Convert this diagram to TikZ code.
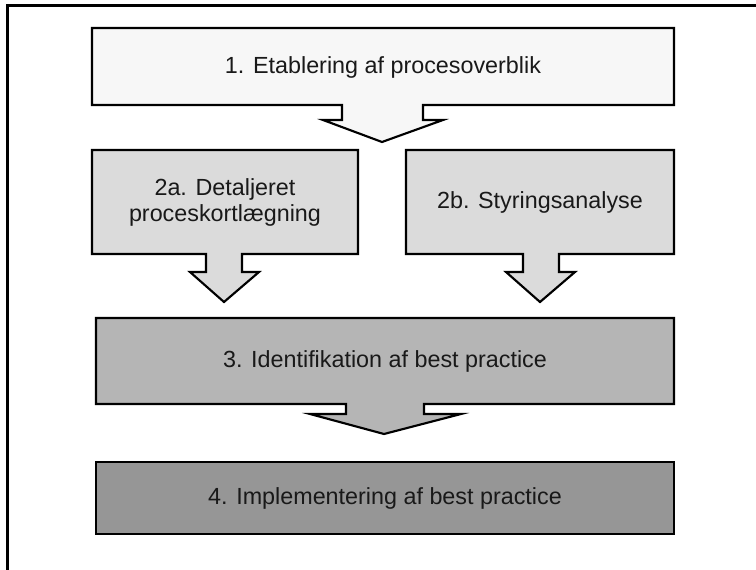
\documentclass[tikz,border=0pt]{standalone}
\usepackage{fontspec}
\setmainfont{Liberation Sans}
\begin{document}
\begin{tikzpicture}[x=0.75pt,y=-0.75pt,
  stage/.style={draw=black,line width=1.6pt,line join=miter},
  label/.style={font=\fontsize{17.5}{19.5}\selectfont,text=black!90,align=center,inner sep=0pt},
  frameline/.style={line width=2.3pt,draw=black}]
\useasboundingbox (0,0) rectangle (756,570);
% outer frame (top and left edges)
\draw[frameline] (7.5,570) -- (7.5,5.8) -- (756,5.8);
% stage 1: box with a broad downward arrow
\filldraw[stage,fill=black!3] (92,28) -- (674,28) -- (674,105) -- (423,105) -- (423,120) -- (443,120)
  -- (382,142) -- (323,120) -- (342,120) -- (342,105) -- (92,105) -- cycle;
% stage 2a
\filldraw[stage,fill=black!14] (92,150) -- (358,150) -- (358,254) -- (242,254) -- (242,272) -- (259,272)
  -- (224,302) -- (190,272) -- (206,272) -- (206,254) -- (92,254) -- cycle;
% stage 2b
\filldraw[stage,fill=black!14] (406,150) -- (674,150) -- (674,254) -- (559,254) -- (559,272) -- (575,272)
  -- (540,302) -- (506,272) -- (523,272) -- (523,254) -- (406,254) -- cycle;
% stage 3
\filldraw[stage,fill=black!29] (96,318) -- (674,318) -- (674,404) -- (424,404) -- (424,414) -- (461,414)
  -- (384,434) -- (310,414) -- (346,414) -- (346,404) -- (96,404) -- cycle;
% stage 4
\filldraw[stage,fill=black!41] (96,462) rectangle (674,534);
% labels
\node[label] (s1) at (383,67) {1. Etablering af procesoverblik};
\node[label] (s2a) at (225,202) {2a. Detaljeret\\proceskortlægning};
\node[label] (s2b) at (540,202) {2b. Styringsanalyse};
\node[label] (s3) at (385,361) {3. Identifikation af best practice};
\node[label] (s4) at (385,498) {4. Implementering af best practice};
\end{tikzpicture}
\end{document}
